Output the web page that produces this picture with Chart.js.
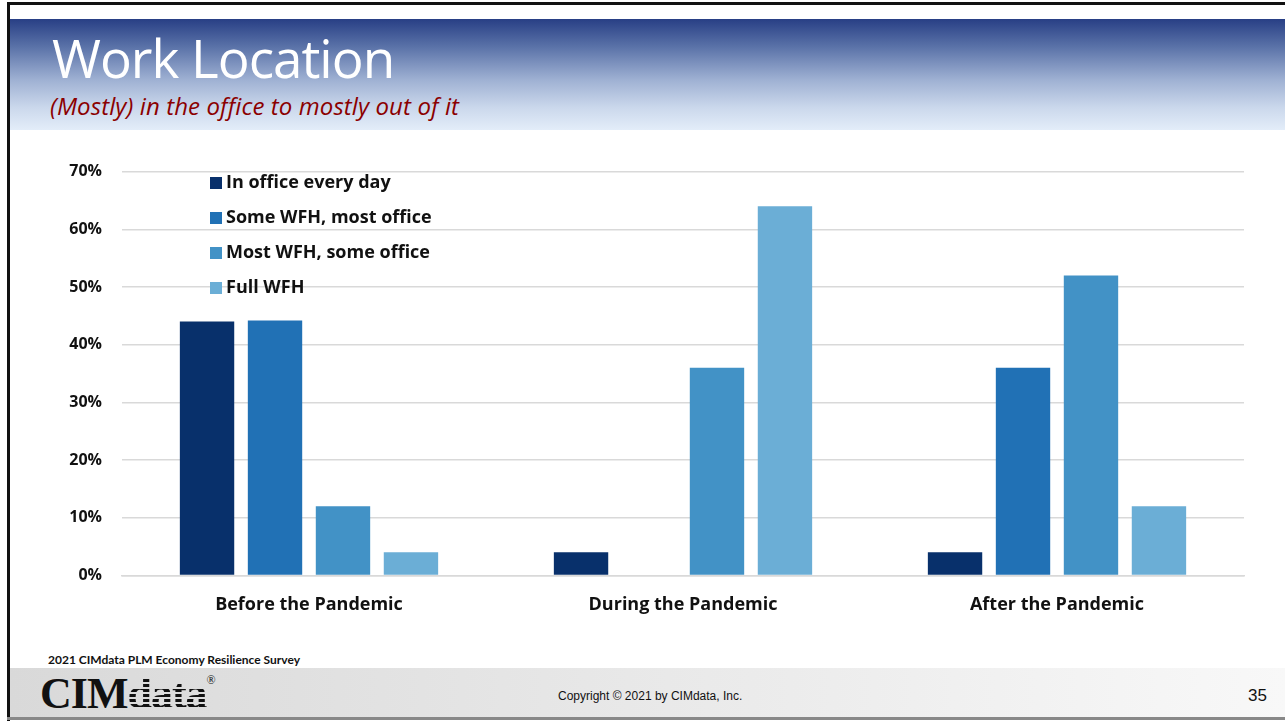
<!DOCTYPE html>
<html>
<head>
<meta charset="utf-8">
<script src="https://cdn.jsdelivr.net/npm/chart.js@4.4.0/dist/chart.umd.min.js"></script>
<style>
  body { margin: 0; width: 1285px; height: 721px; overflow: hidden; background: #fff; position: relative; font-family: "Open Sans", Lato, sans-serif; }
  .frame-top { position: absolute; left: 7px; top: 2px; width: 1278px; height: 3px; background: #111; }
  .frame-left { position: absolute; left: 7px; top: 2px; width: 3px; height: 719px; background: #111; }
  .frame-bottom { position: absolute; left: 7px; top: 717px; width: 1278px; height: 3px; background: #888; }
  .header { position: absolute; left: 10px; top: 19px; width: 1275px; height: 111px;
    background: linear-gradient(to bottom, #283f85 0%, #5a72a8 25%, #9fb1d3 55%, #cbd8ec 80%, #e3edf9 100%); }
  .title { position: absolute; left: 52px; top: 21px; color: #fff; font-size: 53px; font-family: "Open Sans", Lato, sans-serif; letter-spacing: -1px; }
  .subtitle { position: absolute; left: 50px; top: 89px; color: #8b0000; font-size: 24px; font-style: italic; font-family: "Open Sans", Lato, sans-serif; letter-spacing: 0.1px; }
  #wrap { position: absolute; left: 10px; top: 142px; width: 1270px; height: 493px; }
  .legend { position: absolute; left: 210px; top: 170px; font-weight: bold; font-size: 18px; color: #111; font-family: "Open Sans", sans-serif; }
  .legend div { position: absolute; white-space: nowrap; height: 22px; line-height: 22px; }
  .legend span { display: inline-block; width: 12px; height: 12px; margin-right: 4px; vertical-align: -1px; }
  .source { position: absolute; left: 48px; top: 652px; font-size: 12px; font-weight: bold; color: #111; font-family: Lato, sans-serif; }
  .footer { position: absolute; left: 10px; top: 668px; width: 1275px; height: 49px; background: linear-gradient(to right, #d9d9d9, #f8f8f8); }
  .logo { position: absolute; left: 40px; top: 668px; font-family: "Liberation Serif", serif; font-size: 44px; font-weight: bold; color: #111; letter-spacing: -1px; }
  .logo i { font-style: normal; background: repeating-linear-gradient(to bottom, #111 0 3px, transparent 3px 5px); -webkit-background-clip: text; background-clip: text; color: transparent; }
  .logo sup { font-size: 12px; vertical-align: 24px; font-weight: normal; }
  .copy { position: absolute; left: 558px; top: 689px; font-family: "Liberation Sans", Arial, sans-serif; font-size: 12px; color: #111; }
  .page { position: absolute; left: 1248px; top: 686px; font-family: "Liberation Sans", Arial, sans-serif; font-size: 17px; color: #111; }
</style>
</head>
<body>
<div class="frame-top"></div>
<div class="frame-left"></div>
<div class="frame-bottom"></div>
<div class="header"></div>
<div class="title">Work Location</div>
<div class="subtitle">(Mostly) in the office to mostly out of it</div>
<div id="wrap"><canvas id="chart-work"></canvas></div>
<div class="legend" id="legend"></div>
<div class="source">2021 CIMdata PLM Economy Resilience Survey</div>
<div class="footer"></div>
<div class="logo">CIM<i>data</i><sup>®</sup></div>
<div class="copy">Copyright © 2021 by CIMdata, Inc.</div>
<div class="page">35</div>
<script>
const periods = ['Before the Pandemic', 'During the Pandemic', 'After the Pandemic'];
const seriesNames = ['In office every day', 'Some WFH, most office', 'Most WFH, some office', 'Full WFH'];
const inOffice = [44, 4, 4];
const someWfh = [44.2, 0, 36];
const mostWfh = [12, 36, 52];
const fullWfh = [4, 64, 12];
const yTicks = [0, 10, 20, 30, 40, 50, 60, 70];
const colors = ['#08306b', '#2171b5', '#4292c6', '#6baed6'];

const allSeries = [inOffice, someWfh, mostWfh, fullWfh];

// html legend sits inside the plot like the slide
const legendEl = document.getElementById('legend');
seriesNames.forEach((name, i) => {
  const row = document.createElement('div');
  row.style.top = (i * 35) + 'px';
  row.innerHTML = '<span style="background:' + colors[i] + '"></span>' + name;
  legendEl.appendChild(row);
});

const chartWork = document.getElementById('chart-work');

new Chart(chartWork, {
  type: 'bar',
  data: {
    labels: periods,
    datasets: allSeries.map((vals, i) => ({
      label: seriesNames[i],
      data: vals,
      backgroundColor: colors[i],
      borderWidth: 0
    }))
  },
  options: {
    responsive: true,
    maintainAspectRatio: false,
    animation: false,
    categoryPercentage: 0.727,
    barPercentage: 0.8,
    layout: { padding: { top: 12, right: 36, bottom: 0, left: 0 } },
    plugins: {
      legend: { display: false },
      tooltip: { enabled: false }
    },
    scales: {
      y: {
        min: 0,
        max: 70,
        afterBuildTicks: (axis) => { axis.ticks = yTicks.map(v => ({ value: v })); },
        afterFit: (axis) => { axis.width = 112; },
        ticks: {
          callback: (v) => v + '%',
          color: '#111',
          padding: 20,
          font: { family: 'Open Sans', size: 16, weight: 'bold' }
        },
        grid: { color: '#d9d9d9', lineWidth: 1.5, drawTicks: false },
        border: { display: false }
      },
      x: {
        ticks: {
          color: '#111',
          padding: 19,
          font: { family: 'Open Sans', size: 18, weight: 'bold' }
        },
        grid: { display: false, drawTicks: false },
        border: { color: '#d9d9d9', width: 1.5 }
      }
    }
  }
});
</script>
</body>
</html>
